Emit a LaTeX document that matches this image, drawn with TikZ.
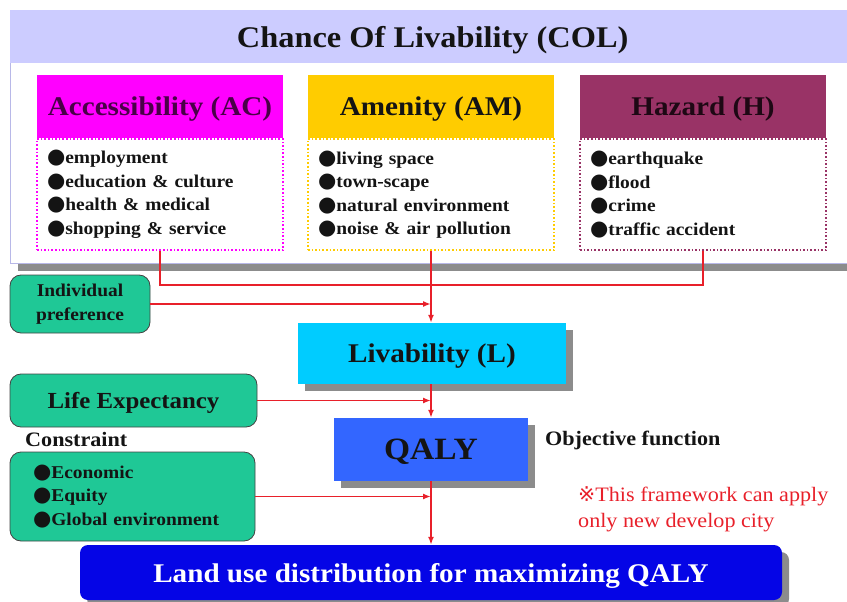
\documentclass[tikz,border=0pt]{standalone}
\usepackage{fontspec}
\setmainfont{Liberation Serif}[FakeStretch=1.08]
\newfontfamily\symfont{DejaVu Sans}
\usetikzlibrary{arrows.meta,shadows}
\definecolor{lav}{HTML}{CCCCFF}
\definecolor{lavline}{HTML}{B8B8E8}
\definecolor{acc}{HTML}{FF00FF}
\definecolor{acctext}{HTML}{4A0048}
\definecolor{amen}{HTML}{FFCC00}
\definecolor{haz}{HTML}{993366}
\definecolor{haztext}{HTML}{1E0814}
\definecolor{mint}{HTML}{1FC896}
\definecolor{sky}{HTML}{00CCFF}
\definecolor{qblue}{HTML}{3366FF}
\definecolor{deepblue}{HTML}{0505E6}
\definecolor{linkred}{HTML}{E8202A}
\definecolor{ink}{HTML}{141414}
\definecolor{shade}{HTML}{8C8C8C}
\newcommand{\blt}{{\symfont\fontsize{21}{0}\selectfont ●}}
\newcommand{\fsz}[2]{\fontsize{#1}{#2}\selectfont}

\begin{document}
\begin{tikzpicture}[x=1pt,y=-1pt,
  hdr/.style={minimum width=246pt,minimum height=63pt,inner sep=0pt,text depth=0pt,font=\fsz{27}{30}\bfseries},
  itembox/.style={dotted,line width=1.6pt,minimum width=246pt,minimum height=111pt,text width=226pt,align=left,inner sep=0pt,text=ink,font=\fsz{18}{23.5}\bfseries},
  mintbox/.style={fill=mint,draw=ink!80,line width=.8pt,rounded corners=11pt,inner sep=0pt,text=ink},
  flatbox/.style={inner sep=0pt,text depth=0pt,drop shadow={shadow xshift=7pt,shadow yshift=-7pt,fill=shade,opacity=1}},
  link/.style={draw=linkred,line width=1.8pt},
  arr/.style={link,-{Latex[length=8pt,width=6pt]}}]
\useasboundingbox (0,0) rectangle (847,602);
% chance of livability frame
\node[draw=lavline,fill=white,line width=1pt,anchor=north west,minimum width=845pt,minimum height=253pt,
  drop shadow={shadow xshift=7pt,shadow yshift=-7pt,fill=shade,opacity=1}] (col) at (10,10) {};
\node[fill=lav,anchor=north west,minimum width=845pt,minimum height=53pt,inner sep=0pt,text depth=0pt,text=ink,
  font=\fsz{30}{32}\bfseries] (coltitle) at (10,10) {Chance Of Livability (COL)};
\foreach \cx/\nm/\ttl/\col/\tcol/\lst in {
  160/ac/Accessibility (AC)/acc/acctext/{\blt employment\\\blt education \& culture\\\blt health \& medical\\\blt shopping \& service},
  431/am/Amenity (AM)/amen/ink/{\blt living space\\\blt town-scape\\\blt natural environment\\\blt noise \& air pollution},
  703/hz/Hazard (H)/haz/haztext/{\blt earthquake\\\blt flood\\\blt crime\\\blt traffic accident}}{
  \node[hdr,fill=\col,text=\tcol] (\nm-h) at (\cx,106.5) {\ttl};
  \node[itembox,draw=\col,anchor=north] (\nm-b) at (\nm-h.south) {\lst};
}
% flow boxes
\node[flatbox,fill=sky,minimum width=268pt,minimum height=61pt,text=ink,font=\fsz{27}{30}\bfseries] (liv) at (432,353.5) {Livability (L)};
\node[flatbox,fill=qblue,minimum width=194pt,minimum height=63pt,text=ink,font=\fsz{31}{34}\bfseries] (qaly) at (431,449.5) {QALY};
\node[flatbox,fill=deepblue,rounded corners=8pt,minimum width=702pt,minimum height=55pt,text=white,
  font=\fsz{27}{30}\bfseries] (land) at (431,572.5) {Land use distribution for maximizing QALY};
\node[mintbox,minimum width=140pt,minimum height=58pt,align=center,font=\fsz{18}{24}\bfseries] (pref) at (80,304) {Individual\\preference};
\node[mintbox,minimum width=247pt,minimum height=53pt,text depth=0pt,font=\fsz{23}{26}\bfseries] (life) at (133.5,400.5) {Life Expectancy};
\node[mintbox,minimum width=245pt,minimum height=89pt,text width=199pt,align=left,font=\fsz{18}{23.5}\bfseries] (cons) at (132.5,496.5)
  {\blt Economic\\\blt Equity\\\blt Global environment};
% labels
\node[anchor=west,inner sep=0pt,text=ink,font=\fsz{20.5}{22}\bfseries] (conslbl) at (25,439) {Constraint};
\node[anchor=west,inner sep=0pt,text=ink,font=\fsz{20.5}{22}\bfseries] (objlbl) at (545,440) {Objective function};
\node[anchor=west,inner sep=0pt,align=left,text=linkred,font=\fsz{20.5}{26}] (note) at (578,509)
  {{\symfont ※}This framework can apply\\only new develop city};
% connectors
\coordinate (lvl) at (0,285);
\coordinate (tap) at (am-b.south |- lvl);
\draw[link] (ac-b.south) |- (tap);
\draw[link] (hz-b.south) |- (tap);
\draw[arr] (am-b.south) -- (am-b.south |- liv.north);
\draw[arr] (pref.east) -- (pref.east -| am-b.south);
\draw[arr] (liv.south -| am-b.south) -- (qaly.north -| am-b.south);
\draw[arr] (life.east) -- (life.east -| am-b.south);
\draw[arr] (qaly.south -| am-b.south) -- (land.north -| am-b.south);
\draw[arr] (cons.east) -- (cons.east -| am-b.south);
\end{tikzpicture}
\end{document}
